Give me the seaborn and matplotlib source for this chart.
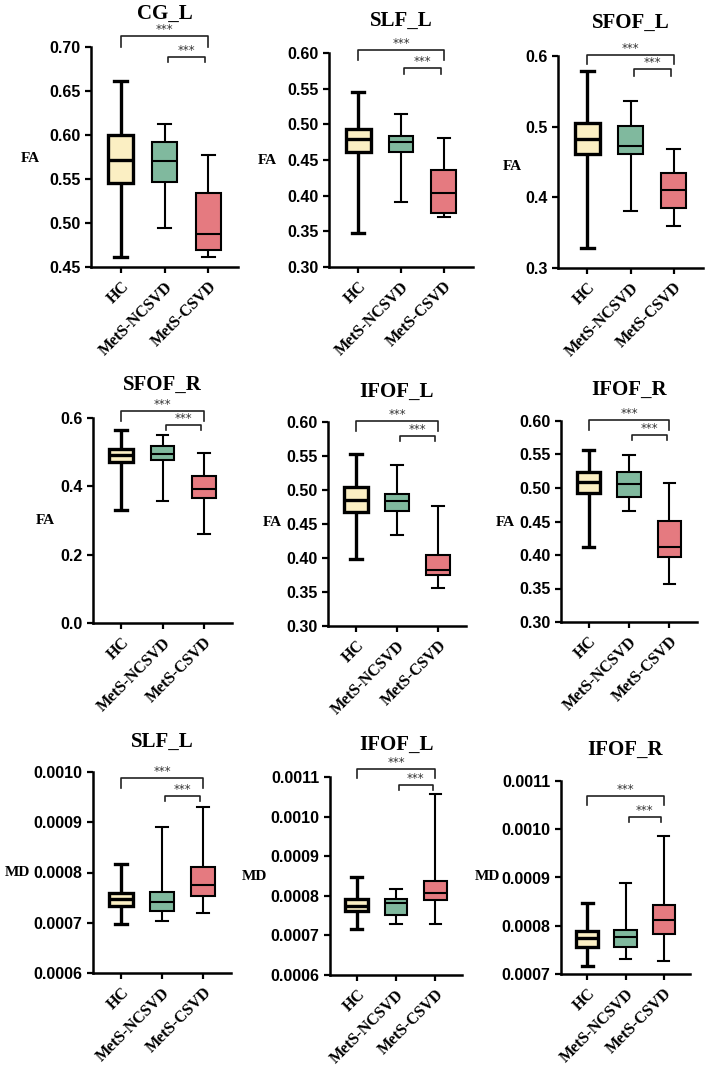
import numpy as np
import pandas as pd
import matplotlib
matplotlib.use("Agg")
import matplotlib.pyplot as plt
import seaborn as sns

groups = ["HC", "MetS-NCSVD", "MetS-CSVD"]
colors = ["#FBEFC3", "#80B99E", "#E57A80"]

# five-number summaries: min, Q1, median, Q3, max
cg_l_fa = [[0.461, 0.545, 0.572, 0.600, 0.661],
           [0.494, 0.547, 0.571, 0.592, 0.613],
           [0.461, 0.469, 0.487, 0.534, 0.577]]
slf_l_fa = [[0.348, 0.461, 0.479, 0.493, 0.545],
            [0.391, 0.461, 0.475, 0.483, 0.514],
            [0.370, 0.376, 0.404, 0.436, 0.481]]
sfof_l_fa = [[0.328, 0.462, 0.482, 0.505, 0.579],
             [0.381, 0.461, 0.473, 0.501, 0.536],
             [0.360, 0.385, 0.411, 0.434, 0.469]]
sfof_r_fa = [[0.330, 0.471, 0.491, 0.510, 0.566],
             [0.357, 0.478, 0.494, 0.517, 0.551],
             [0.261, 0.367, 0.393, 0.429, 0.499]]
ifof_l_fa = [[0.399, 0.468, 0.486, 0.505, 0.553],
             [0.434, 0.469, 0.484, 0.494, 0.537],
             [0.356, 0.375, 0.382, 0.405, 0.477]]
ifof_r_fa = [[0.412, 0.492, 0.509, 0.524, 0.557],
             [0.466, 0.486, 0.506, 0.524, 0.549],
             [0.356, 0.397, 0.412, 0.451, 0.508]]
slf_l_md = [[0.000697, 0.000733, 0.000747, 0.000759, 0.000817],
            [0.000703, 0.000724, 0.000742, 0.000762, 0.000891],
            [0.000719, 0.000754, 0.000776, 0.000811, 0.000931]]
ifof_l_md = [[0.000715, 0.000762, 0.000775, 0.000791, 0.000848],
             [0.000730, 0.000752, 0.000783, 0.000792, 0.000816],
             [0.000730, 0.000789, 0.000806, 0.000837, 0.001058]]
ifof_r_md = [[0.000717, 0.000755, 0.000774, 0.000790, 0.000848],
             [0.000731, 0.000755, 0.000776, 0.000791, 0.000888],
             [0.000726, 0.000783, 0.000812, 0.000843, 0.000986]]

panels = [cg_l_fa, slf_l_fa, sfof_l_fa, sfof_r_fa, ifof_l_fa, ifof_r_fa,
          slf_l_md, ifof_l_md, ifof_r_md]
titles = ["CG_L", "SLF_L", "SFOF_L", "SFOF_R", "IFOF_L", "IFOF_R",
          "SLF_L", "IFOF_L", "IFOF_R"]
metrics = ["FA"] * 6 + ["MD"] * 3
# y axis: (low, high, step, decimals)
yaxes = [(0.45, 0.70, 0.05, 2), (0.30, 0.60, 0.05, 2), (0.3, 0.6, 0.1, 1),
         (0.0, 0.6, 0.2, 1), (0.30, 0.60, 0.05, 2), (0.30, 0.60, 0.05, 2),
         (0.0006, 0.0010, 0.0001, 4), (0.0006, 0.0011, 0.0001, 4),
         (0.0007, 0.0011, 0.0001, 4)]

# layout in pixels: axes (left, right, top, bottom), title y, ylabel (x, y)
rects = [(91, 238, 47, 267), (329, 473, 53, 267), (558, 703, 56, 268),
         (93, 232, 418, 623), (328, 466, 422, 626), (561, 697, 421, 622),
         (93, 231, 772, 973), (330, 462, 777, 975), (561, 690, 781, 974)]
title_y = [14, 21, 23, 385, 392, 390, 742, 745, 750]
ylab_xy = [(30, 159), (267, 160), (512, 166), (45, 521), (272, 523),
           (505, 522), (17, 873), (254, 877), (487, 877)]
# significance brackets: (top line, leg end) for HC-vs-CSVD and NCSVD-vs-CSVD
brackets = [((0.712, 0.700), (0.689, 0.683)),
            ((0.6037, 0.590), (0.579, 0.571)),
            ((0.602, 0.588), (0.581, 0.572)),
            ((0.620, 0.590), (0.580, 0.566)),
            ((0.6015, 0.587), (0.579, 0.572)),
            ((0.6015, 0.587), (0.579, 0.572)),
            ((0.000988, 0.000969), (0.000952, 0.000942)),
            ((0.001121, 0.001097), (0.001081, 0.001068)),
            ((0.001069, 0.001051), (0.001026, 0.001015))]

W, H = 709, 1069
plt.rcParams["axes.linewidth"] = 1.8
plt.rcParams["xtick.major.width"] = 1.6
plt.rcParams["ytick.major.width"] = 1.6
plt.rcParams["xtick.major.size"] = 4.5
plt.rcParams["ytick.major.size"] = 4.5
serif = "Liberation Serif"
sans = "Liberation Sans"

fig = plt.figure(figsize=(W / 100, H / 100), dpi=100)

for i, summ in enumerate(panels):
    l, r, t, b = rects[i]
    ax = fig.add_axes([l / W, 1 - b / H, (r - l) / W, (b - t) / H])
    df = pd.DataFrame({"group": np.repeat(groups, 5),
                       "value": np.concatenate(summ)})
    for g, c in zip(groups, colors):
        lw = 2.4 if g == "HC" else 1.5
        sns.boxplot(data=df[df["group"] == g], x="group", y="value",
                    order=groups, color=c, saturation=1, width=0.58,
                    whis=(0, 100), linewidth=lw, linecolor="black", ax=ax)

    lo, hi, step, dec = yaxes[i]
    ticks = np.round(np.arange(lo, hi + step / 2, step), 6)
    ax.set_ylim(lo, hi)
    ax.set_yticks(ticks)
    ax.set_yticklabels([f"{v:.{dec}f}" for v in ticks], fontfamily=sans,
                       fontweight="bold", fontsize=11.5)
    ax.set_xlim(-0.68, 2.68)
    ax.set_xticks([0, 1, 2])
    ax.set_xticklabels(groups, rotation=45, ha="right", rotation_mode="anchor",
                       fontfamily=serif, fontweight="bold", fontsize=11.5)
    ax.tick_params(axis="y", pad=3)
    ax.tick_params(axis="x", pad=4)
    ax.spines["top"].set_visible(False)
    ax.spines["right"].set_visible(False)
    ax.set_xlabel("")

    ax.set_ylabel(metrics[i], rotation=0, fontfamily=serif, fontweight="bold",
                  fontsize=11, ha="center", va="center")
    lx, ly = ylab_xy[i]
    ax.yaxis.set_label_coords((lx - l) / (r - l), (b - ly) / (b - t))

    ax.set_title(titles[i], x=0.5, y=(b - title_y[i]) / (b - t), pad=0,
                 va="center", fontfamily=serif, fontweight="bold", fontsize=15)

    (y1, y1l), (y2, y2l) = brackets[i]
    for (x0, x1), (yt, yl) in [((0, 2), (y1, y1l)), ((1.08, 1.93), (y2, y2l))]:
        ax.plot([x0, x0, x1, x1], [yl, yt, yt, yl], color="#222222", lw=1.2,
                clip_on=False)
        ax.text((x0 + x1) / 2, yt, "***", ha="center", va="bottom",
                fontsize=8.5, color="#333333")

fig.savefig("out.png", dpi=100)
